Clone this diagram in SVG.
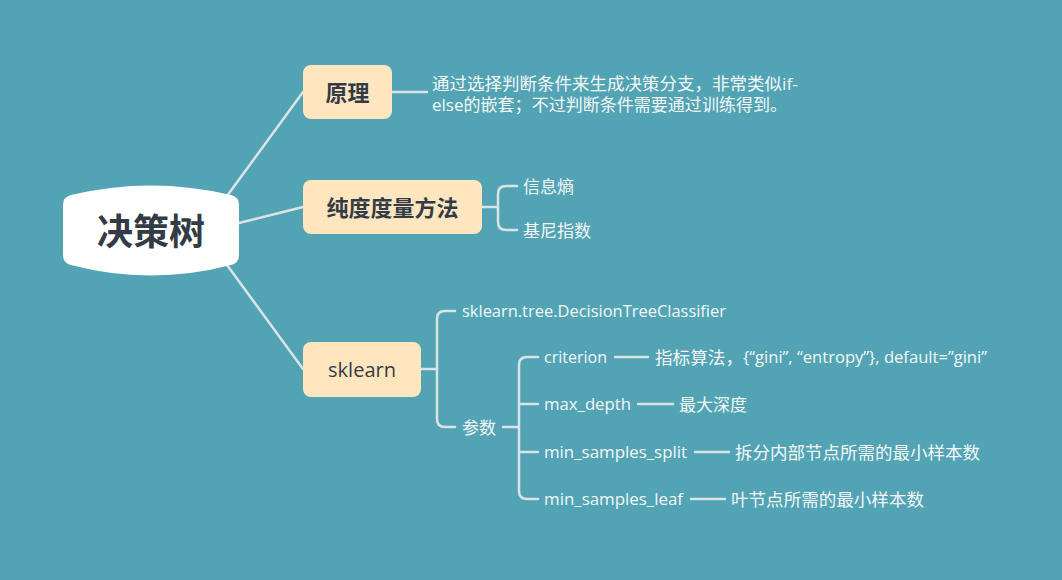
<svg xmlns="http://www.w3.org/2000/svg" width="1062" height="580" viewBox="0 0 1062 580">
<style>
.ln{fill:none;stroke:#DCE3E8;stroke-width:2.5;stroke-linecap:round;stroke-linejoin:round}
.box{fill:#FFE6BF}
.t{font-family:"Open Sans","Noto Sans CJK SC",sans-serif;fill:#F4F7F9;font-size:16px;dominant-baseline:central}
.tc{font-size:17px}
.nt{font-family:"Open Sans","Noto Sans CJK SC",sans-serif;fill:#333B46;dominant-baseline:central;text-anchor:middle}
</style>
<rect width="1062" height="580" fill="#52A4B4"/>
<g id="connectors">
<line class="ln" x1="227" y1="196" x2="303" y2="92"/>
<line class="ln" x1="239" y1="223" x2="303" y2="207"/>
<line class="ln" x1="227" y1="265" x2="303" y2="369"/>
<line class="ln" x1="392" y1="92" x2="427" y2="92"/>
<path class="ln" d="M482,207 H498 M517,186 H506 Q498,186 498,194 V222 Q498,230 506,230 H517"/>
<path class="ln" d="M421,369 H437 M455,311 H445 Q437,311 437,319 V419 Q437,427 445,427 H455"/>
<path class="ln" d="M503,427 H519 M538,357 H527 Q519,357 519,365 V491 Q519,499 527,499 H538 M519,404 H538 M519,452 H538"/>
<line class="ln" x1="615" y1="357" x2="648" y2="357"/>
<line class="ln" x1="638" y1="404" x2="673" y2="404"/>
<line class="ln" x1="695" y1="452" x2="729" y2="452"/>
<line class="ln" x1="691" y1="499" x2="725" y2="499"/>
</g>
<g id="root">
<path d="M63,205 Q63,197 71,195 Q151,176 231,195 Q239,197 239,205 L239,255 Q239,263 231,265 Q151,286 71,265 Q63,263 63,255 Z" fill="#FFFFFF"/>
<text class="nt" x="151" y="231" font-size="36" font-weight="bold">决策树</text>
</g>
<g id="yuanli">
<rect class="box" x="303" y="65" width="89" height="54" rx="8"/>
<text class="nt" x="347.5" y="92" font-size="22" font-weight="bold">原理</text>
</g>
<g id="yuanli-text">
<text class="t tc" x="432" y="83" textLength="366" lengthAdjust="spacingAndGlyphs">通过选择判断条件来生成决策分支，非常类似if-</text>
<text class="t tc" x="432" y="104" textLength="355" lengthAdjust="spacingAndGlyphs">else的嵌套；不过判断条件需要通过训练得到。</text>
</g>
<g id="chundu">
<rect class="box" x="303" y="180" width="179" height="54" rx="8"/>
<text class="nt" x="392.5" y="207" font-size="22" font-weight="bold">纯度度量方法</text>
</g>
<g id="xinxishang"><text class="t tc" x="523" y="186">信息熵</text></g>
<g id="jini"><text class="t tc" x="523" y="230">基尼指数</text></g>
<g id="sklearn">
<rect class="box" x="303" y="342" width="118" height="55" rx="8"/>
<text class="nt" x="362" y="369" font-size="20">sklearn</text>
</g>
<g id="classifier"><text class="t" x="462" y="311" textLength="264" lengthAdjust="spacingAndGlyphs">sklearn.tree.DecisionTreeClassifier</text></g>
<g id="canshu"><text class="t tc" x="462" y="427">参数</text></g>
<g id="criterion">
<text class="t" x="544" y="357" textLength="63" lengthAdjust="spacingAndGlyphs">criterion</text>
<text class="t" x="655" y="357" textLength="332" lengthAdjust="spacingAndGlyphs"><tspan class="tc">指标算法，</tspan>{“gini”, “entropy”}, default=”gini”</text>
</g>
<g id="max_depth">
<text class="t" x="544" y="404" textLength="87" lengthAdjust="spacingAndGlyphs">max_depth</text>
<text class="t tc" x="679" y="404">最大深度</text>
</g>
<g id="min_samples_split">
<text class="t" x="544" y="452" textLength="143" lengthAdjust="spacingAndGlyphs">min_samples_split</text>
<text class="t tc" x="735" y="452" textLength="245" lengthAdjust="spacingAndGlyphs">拆分内部节点所需的最小样本数</text>
</g>
<g id="min_samples_leaf">
<text class="t" x="544" y="499" textLength="139" lengthAdjust="spacingAndGlyphs">min_samples_leaf</text>
<text class="t tc" x="731" y="499" textLength="193" lengthAdjust="spacingAndGlyphs">叶节点所需的最小样本数</text>
</g>
</svg>
